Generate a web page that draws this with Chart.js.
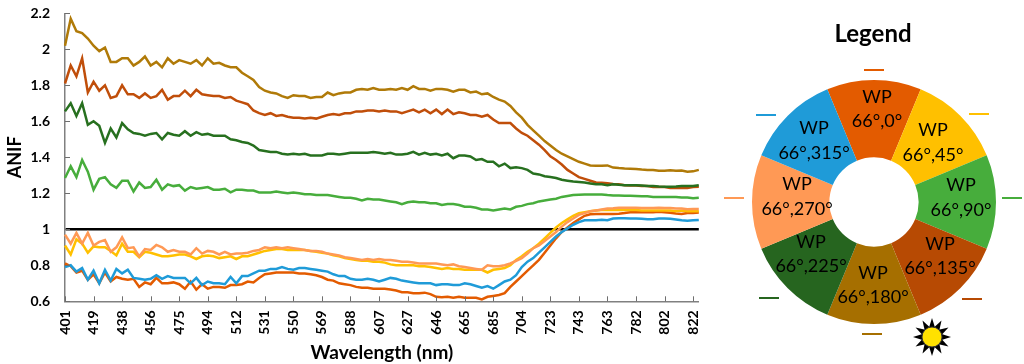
<!DOCTYPE html>
<html>
<head>
<meta charset="utf-8">
<title>ANIF</title>
<script src="https://cdn.jsdelivr.net/npm/chart.js@4"></script>
<style>
  html, body { margin: 0; padding: 0; background: #fff; }
  #anif-chart, #legend-chart { position: absolute; top: 0; }
  #anif-chart { left: 0; }
  #legend-chart { left: 700px; }
</style>
</head>
<body>
<canvas id="anif-chart" width="1024" height="364"></canvas>
<canvas id="legend-chart" width="324" height="364"></canvas>
<script>
const wavelengths = [
  401,405,408,412,415, 419,423,427,430,434, 438,442,445,449,452, 456,460,464,467,471,
  475,479,483,486,490, 494,498,501,505,508, 512,516,520,523,527, 531,535,539,542,546,
  550,554,558,561,565, 569,573,577,580,584, 588,592,596,599,603, 607,611,615,619,623,
  627,631,635,638,642, 646,650,654,657,661, 665,669,673,677,681, 685,689,693,696,700,
  704,708,712,715,719, 723,727,731,735,739, 743,747,751,755,759, 763,767,771,774,778,
  782,786,790,794,798, 802,806,810,814,818, 822,826
];
const tickLabels = [401,419,438,456,475,494,512,531,550,569,588,607,627,646,665,685,704,723,743,763,782,802,822];
const yTicks = [0.6,0.8,1,1.2,1.4,1.6,1.8,2,2.2];

const wp0 = [
  .81,.795,.76,.77,.72, .75,.70,.76,.71,.735, .725,.72,.725,.68,.705, .695,.73,.70,.70,.705,
  .695,.67,.71,.665,.695, .67,.68,.68,.675,.69, .69,.695,.71,.705,.73, .75,.755,.76,.76,.76,
  .76,.755,.755,.75,.745, .735,.72,.715,.70,.695, .69,.68,.675,.675,.67, .67,.67,.665,.66,.65,
  .65,.645,.645,.648,.64, .625,.622,.625,.62,.625, .62,.62,.62,.61,.625, .63,.635,.645,.68,.71,
  .74,.77,.80,.83,.87, .91,.95,.985,1.01,1.035, 1.055,1.075,1.083,1.085,1.085, 1.085,1.085,1.087,1.09,1.095,
  1.095,1.095,1.095,1.095,1.097, 1.095,1.092,1.088,1.085,1.09, 1.09,1.093
];
const wp45 = [
  .91,.86,.945,.92,.87, .905,.90,.90,.88,.855, .92,.875,.875,.845,.875, .87,.86,.85,.85,.855,
  .86,.86,.85,.835,.85, .855,.85,.84,.845,.85, .835,.85,.85,.86,.87, .88,.885,.89,.89,.885,
  .885,.885,.885,.88,.875, .87,.865,.855,.85,.84, .835,.83,.825,.825,.82, .82,.815,.805,.80,.80,
  .80,.80,.795,.795,.79, .785,.78,.785,.78,.78, .775,.775,.775,.775,.76, .775,.78,.785,.80,.83,
  .85,.875,.895,.92,.95, .98,1.01,1.035,1.055,1.075, 1.09,1.095,1.10,1.105,1.107, 1.107,1.107,1.107,1.107,1.107,
  1.107,1.105,1.105,1.105,1.105, 1.105,1.105,1.10,1.105,1.10, 1.10,1.10
];
const wp90 = [
  1.285,1.35,1.29,1.385,1.32, 1.22,1.28,1.29,1.25,1.23, 1.27,1.27,1.21,1.26,1.23, 1.235,1.275,1.22,1.25,1.24,
  1.245,1.215,1.235,1.225,1.23, 1.235,1.22,1.22,1.225,1.205, 1.22,1.22,1.215,1.215,1.205, 1.205,1.205,1.21,1.205,1.20,
  1.205,1.20,1.195,1.195,1.19, 1.19,1.19,1.185,1.18,1.175, 1.175,1.17,1.16,1.17,1.165, 1.165,1.16,1.155,1.15,1.14,
  1.15,1.155,1.15,1.15,1.145, 1.145,1.135,1.14,1.14,1.135, 1.125,1.125,1.12,1.11,1.11, 1.105,1.11,1.115,1.11,1.125,
  1.13,1.14,1.145,1.155,1.16, 1.165,1.17,1.18,1.185,1.19, 1.192,1.193,1.193,1.193,1.193, 1.19,1.188,1.188,1.187,1.187,
  1.185,1.183,1.183,1.18,1.18, 1.18,1.18,1.18,1.177,1.177, 1.172,1.175
];
const wp135 = [
  1.81,1.91,1.85,1.95,1.76, 1.82,1.77,1.80,1.73,1.74, 1.80,1.75,1.75,1.73,1.755, 1.73,1.74,1.775,1.72,1.74,
  1.74,1.77,1.74,1.775,1.75, 1.745,1.74,1.74,1.73,1.735, 1.715,1.705,1.695,1.66,1.645, 1.635,1.645,1.63,1.635,1.625,
  1.62,1.62,1.615,1.62,1.615, 1.625,1.635,1.64,1.635,1.645, 1.645,1.655,1.655,1.66,1.66, 1.655,1.66,1.655,1.655,1.645,
  1.655,1.665,1.65,1.665,1.645, 1.665,1.64,1.665,1.64,1.65, 1.645,1.635,1.635,1.625,1.635, 1.61,1.59,1.59,1.59,1.56,
  1.535,1.52,1.495,1.47,1.44, 1.405,1.385,1.36,1.33,1.31, 1.29,1.28,1.27,1.26,1.258, 1.256,1.252,1.25,1.245,1.243,
  1.243,1.24,1.24,1.235,1.235, 1.235,1.23,1.23,1.23,1.23, 1.235,1.237
];
const wp180 = [
  2.02,2.17,2.10,2.09,2.06, 2.02,1.99,2.01,1.93,1.93, 1.95,1.95,1.91,1.93,1.96, 1.91,1.93,1.90,1.95,1.92,
  1.94,1.93,1.92,1.94,1.91, 1.95,1.92,1.925,1.91,1.90, 1.90,1.87,1.85,1.83,1.79, 1.77,1.76,1.755,1.74,1.73,
  1.745,1.74,1.74,1.73,1.735, 1.735,1.76,1.745,1.755,1.76, 1.76,1.775,1.78,1.775,1.785, 1.775,1.775,1.78,1.775,1.785,
  1.775,1.795,1.78,1.78,1.77, 1.78,1.78,1.775,1.765,1.775, 1.775,1.76,1.765,1.75,1.755, 1.735,1.72,1.71,1.685,1.65,
  1.62,1.58,1.55,1.52,1.49, 1.465,1.44,1.42,1.405,1.39, 1.375,1.365,1.355,1.353,1.353, 1.355,1.343,1.34,1.338,1.337,
  1.335,1.332,1.33,1.33,1.325, 1.325,1.328,1.325,1.327,1.32, 1.322,1.33
];
const wp225 = [
  1.655,1.70,1.63,1.70,1.58, 1.60,1.575,1.48,1.56,1.51, 1.59,1.555,1.535,1.53,1.52, 1.53,1.535,1.50,1.535,1.525,
  1.52,1.545,1.52,1.54,1.525, 1.53,1.52,1.52,1.52,1.50, 1.495,1.485,1.48,1.465,1.44, 1.435,1.43,1.43,1.42,1.415,
  1.42,1.415,1.42,1.41,1.41, 1.41,1.42,1.42,1.415,1.42, 1.425,1.425,1.425,1.425,1.43, 1.425,1.42,1.425,1.415,1.415,
  1.42,1.43,1.415,1.425,1.415, 1.42,1.41,1.42,1.395,1.41, 1.41,1.405,1.385,1.39,1.375, 1.375,1.35,1.365,1.34,1.345,
  1.34,1.33,1.31,1.305,1.295, 1.29,1.285,1.275,1.27,1.265, 1.263,1.26,1.255,1.25,1.25, 1.245,1.25,1.247,1.245,1.245,
  1.245,1.243,1.24,1.24,1.238, 1.237,1.237,1.238,1.24,1.24, 1.24,1.245
];
const wp270 = [
  .97,.92,.98,.92,.98, .91,.93,.94,.875,.90, .955,.895,.90,.85,.89, .885,.913,.90,.875,.885,
  .875,.875,.86,.895,.865, .88,.875,.86,.875,.86, .865,.865,.87,.88,.885, .90,.895,.90,.895,.90,
  .895,.89,.885,.88,.88, .875,.865,.86,.855,.845, .84,.835,.83,.835,.83, .835,.83,.83,.825,.82,
  .82,.815,.81,.81,.81, .81,.805,.80,.805,.795, .79,.785,.78,.775,.80, .795,.795,.80,.81,.825,
  .84,.865,.895,.91,.935, .96,.985,1.015,1.04,1.06, 1.08,1.09,1.10,1.105,1.11, 1.115,1.117,1.12,1.12,1.12,
  1.12,1.118,1.118,1.118,1.12, 1.118,1.118,1.115,1.115,1.112, 1.113,1.113
];
const wp315 = [
  .79,.80,.765,.785,.72, .77,.70,.775,.715,.78, .755,.775,.73,.725,.72, .725,.745,.725,.74,.73,
  .73,.73,.70,.73,.69, .71,.70,.70,.695,.735, .70,.74,.74,.755,.77, .77,.78,.78,.79,.78,
  .775,.785,.785,.78,.775, .77,.765,.75,.74,.74, .725,.72,.72,.725,.72, .71,.72,.73,.725,.715,
  .71,.705,.70,.70,.70, .69,.695,.695,.69,.69, .70,.695,.685,.675,.685, .67,.69,.71,.72,.745,
  .79,.82,.84,.87,.90, .93,.96,.985,1.005,1.025, 1.04,1.05,1.05,1.05,1.053, 1.05,1.06,1.062,1.062,1.06,
  1.06,1.058,1.056,1.056,1.06, 1.06,1.058,1.055,1.05,1.048, 1.05,1.052
];

const sliceNames = ["66°,0°","66°,45°","66°,90°","66°,135°","66°,180°","66°,225°","66°,270°","66°,315°"];
const sliceValues = [1,1,1,1,1,1,1,1];
const sliceColors = ["#E35B00","#FFC000","#47AD3C","#B74A03","#A66F00","#26651F","#FF9955","#1F9BD8"];

const FONT = "Lato, 'Open Sans', sans-serif";

// ticks point into the plot, chart.js only draws them outward
const inwardTicks = {
  id: "inwardTicks",
  afterDraw(chart) {
    const { ctx, scales: { x, y } } = chart;
    ctx.save();
    ctx.strokeStyle = "#6e6e6e";
    ctx.lineWidth = 1;
    x.ticks.forEach((t, i) => {
      if (!t.label) return;
      const px = Math.round(x.getPixelForTick(i)) + 0.5;
      ctx.beginPath();
      ctx.moveTo(px, y.bottom);
      ctx.lineTo(px, y.bottom - 5);
      ctx.stroke();
    });
    y.ticks.forEach((t, i) => {
      const py = Math.round(y.getPixelForTick(i)) + 0.5;
      ctx.beginPath();
      ctx.moveTo(x.left, py);
      ctx.lineTo(x.left + 5, py);
      ctx.stroke();
    });
    ctx.restore();
  },
};

new Chart(document.getElementById("anif-chart"), {
  type: "line",
  data: {
    labels: wavelengths,
    datasets: [
      { label: "WP 66°,270°", data: wp270, borderColor: sliceColors[6] },
      { label: "WP 66°,45°", data: wp45, borderColor: sliceColors[1] },
      { label: "WP 66°,315°", data: wp315, borderColor: sliceColors[7] },
      { label: "WP 66°,0°", data: wp0, borderColor: sliceColors[0] },
      { label: "WP 66°,225°", data: wp225, borderColor: "#27701F" },
      { label: "WP 66°,135°", data: wp135, borderColor: "#C04E0A" },
      { label: "WP 66°,90°", data: wp90, borderColor: sliceColors[2] },
      { label: "WP 66°,180°", data: wp180, borderColor: "#B07A08" },
    ],
  },
  options: {
    responsive: false,
    animation: false,
    datasets: { line: { borderWidth: 2.5, pointRadius: 0, tension: 0 } },
    layout: { autoPadding: false, padding: { top: 13.3, right: 325.2, left: 0, bottom: 0 } },
    plugins: { legend: { display: false }, tooltip: { enabled: false } },
    scales: {
      x: {
        type: "category",
        offset: false,
        afterFit(scale) {
          scale.height = 62.7;
          scale.paddingLeft = 0;
          scale.paddingRight = 0;
        },
        grid: { display: false },
        border: { color: "#808080", width: 1.5 },
        ticks: {
          autoSkip: false,
          minRotation: 90,
          maxRotation: 90,
          padding: 1,
          color: "#000",
          font: { family: FONT, size: 14, weight: "bold" },
          callback(value) {
            const w = this.getLabelForValue(value);
            return tickLabels.includes(w) ? String(w) : "";
          },
        },
        title: {
          display: true,
          text: "Wavelength (nm)",
          color: "#000",
          font: { family: FONT, size: 19, weight: "bold" },
          padding: { top: 0, bottom: 0 },
        },
      },
      y: {
        min: yTicks[0],
        max: yTicks[yTicks.length - 1],
        afterFit(scale) {
          scale.width = 65;
          scale.paddingTop = 0;
          scale.paddingBottom = 0;
        },
        afterBuildTicks(scale) { scale.ticks = yTicks.map((v) => ({ value: v })); },
        grid: {
          drawTicks: false,
          color: (c) => (c.tick && c.tick.value === 1 ? "#000" : "rgba(0,0,0,0)"),
          lineWidth: (c) => (c.tick && c.tick.value === 1 ? 2.5 : 0),
        },
        border: { color: "#808080", width: 1.5 },
        ticks: {
          padding: 15,
          color: "#000",
          font: { family: FONT, size: 14, weight: "bold" },
          callback: (v) => String(v),
        },
        title: {
          display: true,
          text: "ANIF",
          color: "#000",
          font: { family: FONT, size: 18, weight: "bold" },
          padding: { top: 4, bottom: 0 },
        },
      },
    },
  },
  plugins: [inwardTicks],
});

// offsets of the wedge text from the donut centre, [x, wp line y, angle line y]
const sliceText = [
  [3, -105, -81], [59, -72, -47], [87, -17, 8], [66, 42, 66],
  [-1, 71, 95], [-63, 40, 64], [-77, -18, 7], [-60, -74, -49],
];
// little colour dashes round the donut, same idea
const dashes = [
  [0, -132], [105, -88], [138, -4], [98, 97], [-2, 132], [-105, 96], [-140, -4], [-108, -87],
];

const legendDecor = {
  id: "legendDecor",
  afterDraw(chart) {
    const { ctx, chartArea: a } = chart;
    const cx = (a.left + a.right) / 2;
    const cy = (a.top + a.bottom) / 2;
    ctx.save();
    ctx.textAlign = "center";
    ctx.textBaseline = "middle";
    ctx.fillStyle = "#000";

    ctx.font = "bold 24px " + FONT;
    ctx.fillText("Legend", cx - 1, 34);

    ctx.font = "18px " + FONT;
    sliceNames.forEach((name, i) => {
      const [dx, y1, y2] = sliceText[i];
      ctx.fillText("WP", cx + dx, cy + y1);
      ctx.fillText(name, cx + dx, cy + y2);
    });

    ctx.lineWidth = 2;
    dashes.forEach(([dx, dy], i) => {
      ctx.strokeStyle = sliceColors[i];
      ctx.beginPath();
      ctx.moveTo(cx + dx - 10, cy + dy);
      ctx.lineTo(cx + dx + 10, cy + dy);
      ctx.stroke();
    });

    // sun
    const sx = cx + 58, sy = cy + 135;
    ctx.fillStyle = "#000";
    for (let k = 0; k < 12; k++) {
      const t = (k * Math.PI) / 6;
      ctx.beginPath();
      ctx.moveTo(sx + Math.cos(t) * 19, sy + Math.sin(t) * 19);
      ctx.lineTo(sx + Math.cos(t + 0.3) * 10, sy + Math.sin(t + 0.3) * 10);
      ctx.lineTo(sx + Math.cos(t - 0.3) * 10, sy + Math.sin(t - 0.3) * 10);
      ctx.closePath();
      ctx.fill();
    }
    ctx.beginPath();
    ctx.arc(sx, sy, 10, 0, Math.PI * 2);
    ctx.fillStyle = "#FFE100";
    ctx.fill();
    ctx.lineWidth = 1;
    ctx.strokeStyle = "#333";
    ctx.stroke();
    ctx.restore();
  },
};

new Chart(document.getElementById("legend-chart"), {
  type: "doughnut",
  data: {
    labels: sliceNames,
    datasets: [{ data: sliceValues, backgroundColor: sliceColors, borderWidth: 0 }],
  },
  options: {
    responsive: false,
    animation: false,
    rotation: -22.5,
    cutout: "36.6%",
    layout: { padding: { left: 52, right: 28, top: 80, bottom: 40 } },
    plugins: { legend: { display: false }, tooltip: { enabled: false } },
  },
  plugins: [legendDecor],
});
</script>
</body>
</html>
